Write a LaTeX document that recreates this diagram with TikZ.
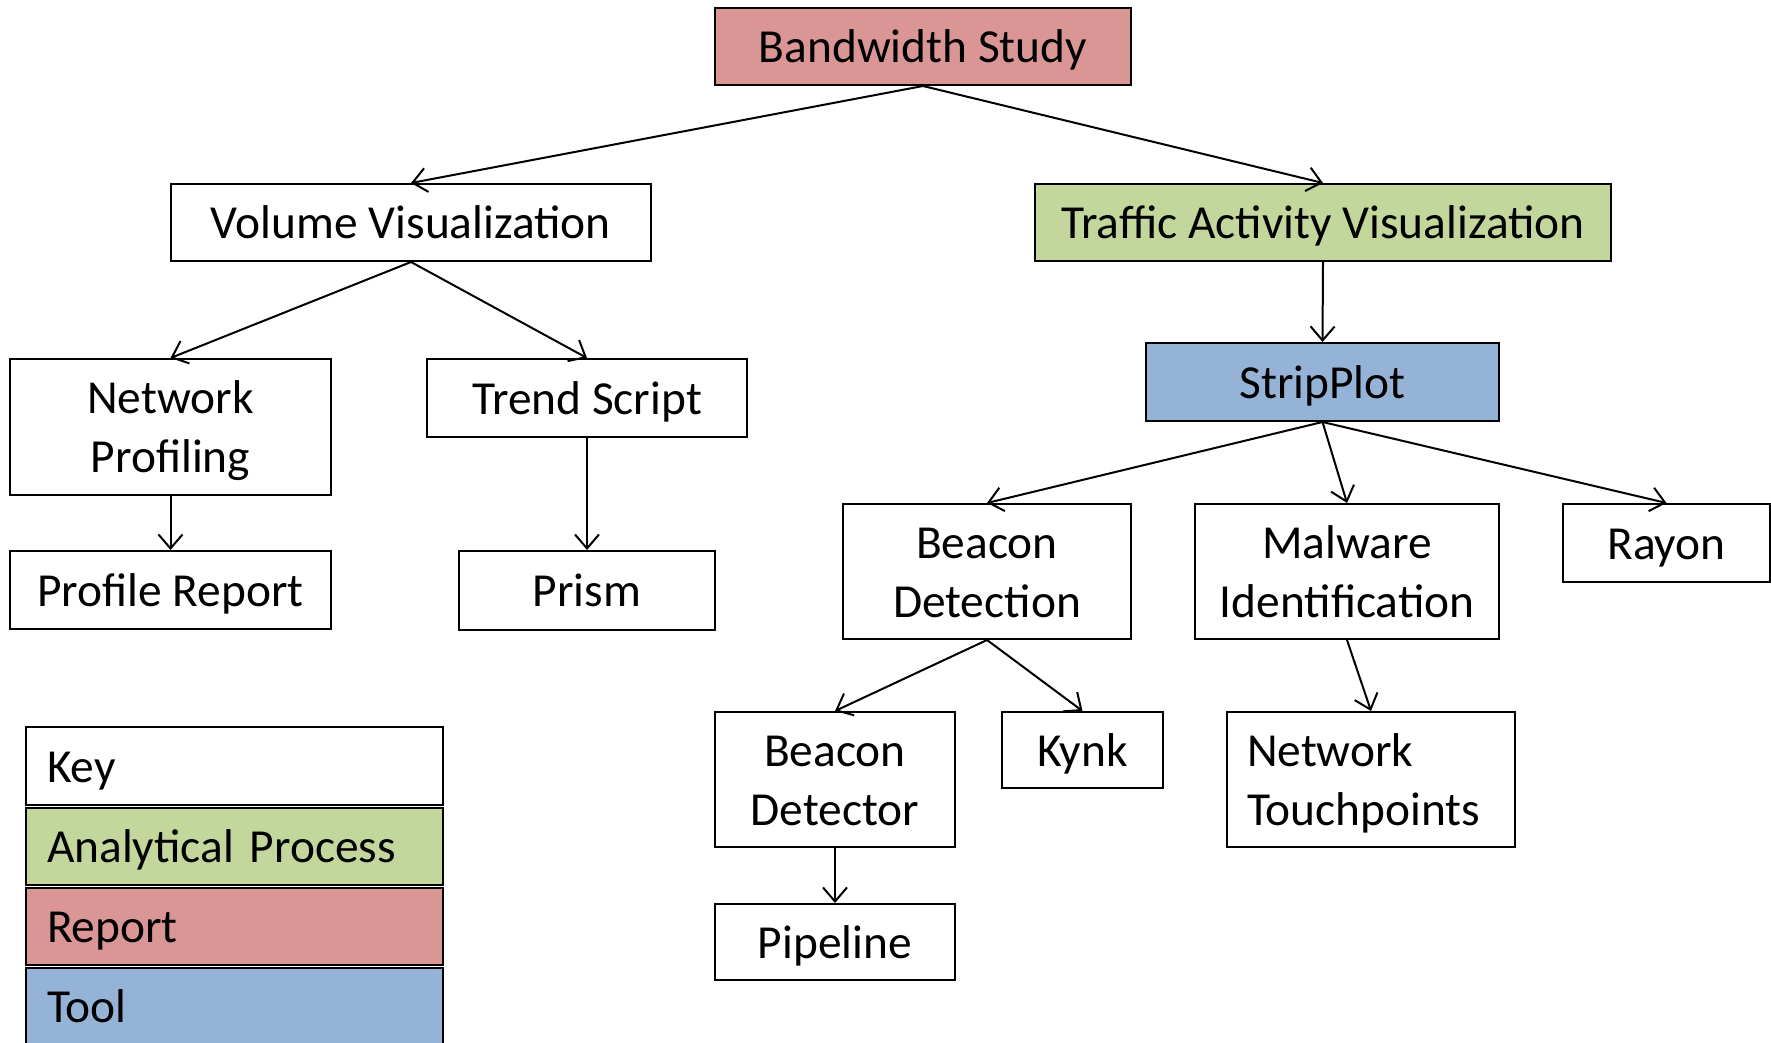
\documentclass[tikz,border=0pt]{standalone}
\usepackage{fontspec}
\setmainfont{Carlito}
\usetikzlibrary{arrows.meta}
\definecolor{repcol}{HTML}{D99694}
\definecolor{proccol}{HTML}{C3D69B}
\definecolor{toolcol}{HTML}{95B3D7}
\begin{document}
\begin{tikzpicture}[x=0.5pt,y=-0.5pt,
  box/.style={draw=black, line width=1pt, fill=white, inner sep=0pt, align=center,
    font=\fontsize{23.7}{29.5}\selectfont,
    execute at begin node={\rule{0pt}{20pt}},
    execute at end node={\rule[-4pt]{0pt}{0pt}}},
  sz/.style 2 args={minimum width=#1*0.5pt, minimum height=#2*0.5pt},
  mlsz/.style 2 args={text width=#1*0.5pt, minimum height=#2*0.5pt},
  legbox/.style={box, align=left, text width=187.5pt, inner xsep=10.5pt, inner ysep=0pt},
  arr/.style={line width=1pt, -{Straight Barb[length=7pt,width=12pt]}}
]
\useasboundingbox (0,0) rectangle (1771,1043);
% main tree
\node[box, fill=repcol, sz={416}{77}] (bw) at (923,46.5) {Bandwidth Study};
\node[box, sz={480}{77}] (vv) at (411,222.5) {Volume Visualization};
\node[box, fill=proccol, sz={576}{77}] (tav) at (1323,222.5) {Traffic Activity Visualization};
\node[box, mlsz={321}{136}] (np) at (170.5,427) {Network\\Profiling};
\node[box, sz={320}{78}] (ts) at (587,398) {Trend Script};
\node[box, sz={321}{78}] (pr) at (170.5,590) {Profile Report};
\node[box, sz={256}{79}] (prism) at (587,590.5) {Prism};
\node[box, fill=toolcol, sz={353}{78}] (sp) at (1322.5,382) {StripPlot};
\node[box, mlsz={288}{135}] (bdn) at (987,571.5) {Beacon\\Detection};
\node[box, mlsz={304}{135}] (mi) at (1347,571.5) {Malware\\Identification};
\node[box, sz={207}{78}] (ray) at (1666.5,543) {Rayon};
\node[box, mlsz={240}{135}] (bdr) at (835,779.5) {Beacon\\Detector};
\node[box, sz={161}{76}] (kynk) at (1082.5,750) {Kynk};
\node[box, align=left, text width=124pt, inner xsep=10pt, minimum height=67.5pt] (nt) at (1371,779.5) {Network\\Touchpoints};
\node[box, sz={240}{76}] (pipe) at (835,942) {Pipeline};
% legend
\node[legbox, minimum height=39pt] (key) at (234.5,766) {Key};
\node[legbox, fill=proccol, minimum height=38.5pt] (kap) at (234.5,846.5) {Analytical Process};
\node[legbox, fill=repcol, minimum height=38.5pt] (krep) at (234.5,926.5) {Report};
\node[legbox, fill=toolcol, minimum height=40pt] (ktool) at (234.5,1008) {\raisebox{0.8pt}{Tool}};
% connectors
\draw[arr] (bw.south) -- (vv.north);
\draw[arr] (bw.south) -- (tav.north);
\draw[arr] (vv.south) -- (np.north);
\draw[arr] (vv.south) -- (ts.north);
\draw[arr] (np.south) -- (pr.north);
\draw[arr] (ts.south) -- (prism.north);
\draw[arr] (tav.south) -- (sp.north);
\draw[arr] (sp.south) -- (bdn.north);
\draw[arr] (sp.south) -- (mi.north);
\draw[arr] (sp.south) -- (ray.north);
\draw[arr] (bdn.south) -- (bdr.north);
\draw[arr] (bdn.south) -- (kynk.north);
\draw[arr] (mi.south) -- (nt.north);
\draw[arr] (bdr.south) -- (pipe.north);
\end{tikzpicture}
\end{document}
